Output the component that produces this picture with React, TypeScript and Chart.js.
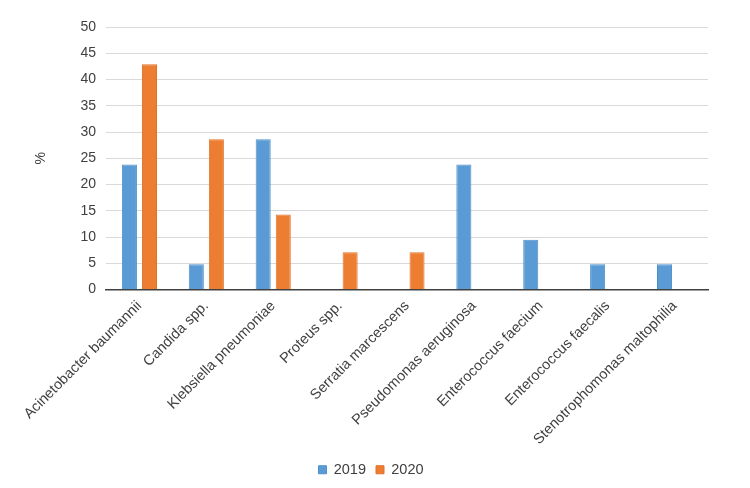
import React, { useEffect, useRef } from "react";
import { Chart, registerables } from "chart.js";

Chart.register(...registerables);

const categories = [
  "Acinetobacter baumannii",
  "Candida spp.",
  "Klebsiella pneumoniae",
  "Proteus spp.",
  "Serratia marcescens",
  "Pseudomonas aeruginosa",
  "Enterococcus faecium",
  "Enterococcus faecalis",
  "Stenotrophomonas maltophilia",
];
const values2019 = [23.8, 4.8, 28.6, 0, 0, 23.8, 9.5, 4.8, 4.8];
const values2020 = [42.9, 28.6, 14.3, 7.1, 7.1, 0, 0, 0, 0];
const seriesLabels = ["2019", "2020"];

export default function App() {
  const ref = useRef<HTMLCanvasElement>(null);
  useEffect(() => {
    const font = "'Liberation Sans', Arial, sans-serif";
    const chart = new Chart(ref.current!, {
      type: "bar",
      data: {
        labels: categories,
        datasets: [
          {
            label: seriesLabels[0],
            data: values2019,
            backgroundColor: "#5B9BD5",
            borderColor: "#4f8fca",
            borderWidth: 1,
            categoryPercentage: 0.6,
            barPercentage: 0.75,
          },
          {
            label: seriesLabels[1],
            data: values2020,
            backgroundColor: "#ED7D31",
            borderColor: "#e07228",
            borderWidth: 1,
            categoryPercentage: 0.6,
            barPercentage: 0.75,
          },
        ],
      },
      options: {
        animation: false,
        responsive: false,
        maintainAspectRatio: false,
        layout: { padding: { top: 27, right: 8, bottom: 1, left: 0 } },
        plugins: {
          legend: {
            position: "bottom",
            labels: {
              boxWidth: 8,
              boxHeight: 8,
              padding: 10,
              color: "#404040",
              font: { family: font, size: 14.5 },
            },
          },
          tooltip: { enabled: false },
        },
        scales: {
          x: {
            afterFit: (s: any) => {
              s.height = 163;
            },
            grid: { display: false, drawTicks: false },
            border: { display: true, color: "#404040", width: 1.5 },
            ticks: {
              minRotation: 45,
              maxRotation: 45,
              color: "#404040",
              padding: 8,
              font: { family: font, size: 14.5 },
            },
          },
          y: {
            min: 0,
            max: 50,
            afterFit: (s: any) => {
              s.width = 106;
            },
            ticks: {
              stepSize: 5,
              color: "#404040",
              padding: 10,
              font: { family: font, size: 14 },
            },
            grid: { color: "#d9d9d9", drawTicks: false },
            border: { display: false },
            title: {
              display: true,
              text: "%",
              color: "#404040",
              font: { family: font, size: 14 },
              padding: { top: 33, bottom: 0 },
            },
          },
          yRight: {
            type: "linear",
            position: "right",
            display: true,
            afterFit: (s: any) => {
              s.width = 34;
            },
            grid: { display: false, drawTicks: false },
            border: { display: false },
            ticks: { display: false },
          },
        },
      },
    });
    return () => chart.destroy();
  }, []);
  return (
    <div style={{ position: "absolute", left: 0, top: 0, width: 750, height: 488, background: "#fff" }}>
      <canvas ref={ref} width={750} height={488} />
    </div>
  );
}
